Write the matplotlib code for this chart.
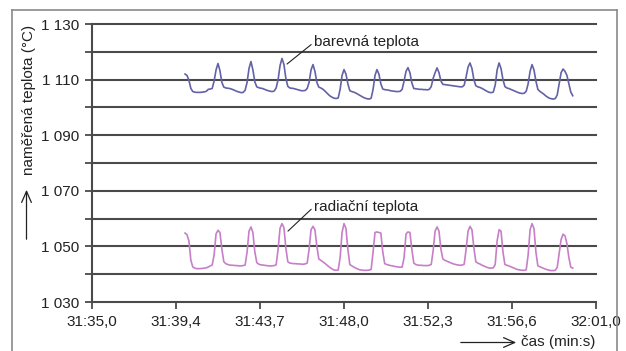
import numpy as np
import matplotlib
matplotlib.use("Agg")
import matplotlib.pyplot as plt
from matplotlib.lines import Line2D
from matplotlib.patches import FancyArrowPatch

plt.rcParams['font.family'] = ['Liberation Sans', 'DejaVu Sans']

# time axis: seconds after 31:35,0, sampled every 0.1 s from 31:39,8
t_start = 4.8
t_step = 0.1

barevna = [
    1112.0, 1111.5, 1109.8, 1106.8, 1105.7, 1105.5, 1105.4, 1105.4, 1105.4, 1105.5,
    1105.6, 1105.8, 1106.5, 1106.6, 1106.8, 1109.5, 1113.5, 1115.8, 1113.2, 1109.0,
    1107.3, 1107.0, 1106.9, 1106.8, 1106.6, 1106.3, 1106.0, 1105.7, 1105.5, 1105.3,
    1105.4, 1106.2, 1109.0, 1114.0, 1116.5, 1113.5, 1109.2, 1107.4, 1107.1, 1106.9,
    1106.8, 1106.5, 1106.2, 1106.0, 1105.8, 1105.7, 1105.9, 1107.0, 1110.0, 1115.0,
    1117.6, 1115.5, 1110.5, 1107.6, 1107.0, 1106.9, 1106.8, 1106.6, 1106.4, 1106.2,
    1106.0, 1106.0, 1106.1, 1106.8, 1109.0, 1113.5, 1115.4, 1113.0, 1109.0, 1107.3,
    1107.0, 1106.6, 1106.0, 1105.3, 1104.6, 1104.0, 1103.6, 1103.3, 1103.2, 1103.4,
    1106.5, 1111.5, 1113.6, 1112.0, 1108.5, 1106.0, 1105.7, 1105.5, 1105.2, 1104.8,
    1104.4, 1104.0, 1103.6, 1103.3, 1103.1, 1103.0, 1103.3, 1106.5, 1111.5, 1113.6,
    1112.0, 1108.5, 1106.6, 1106.4, 1106.3, 1106.2, 1106.0, 1105.9, 1105.8, 1105.7,
    1105.7, 1105.8, 1106.5, 1109.5, 1113.0, 1114.3, 1112.5, 1108.8, 1106.8, 1106.7,
    1106.6, 1106.5, 1106.5, 1106.4, 1106.4, 1106.3, 1106.5, 1107.5, 1110.5, 1112.5,
    1114.2, 1112.5, 1109.5, 1108.3, 1108.2, 1108.1, 1108.0, 1107.9, 1107.8, 1107.7,
    1107.6, 1107.5, 1107.4, 1107.4, 1108.0, 1111.0, 1114.5, 1116.0, 1114.0, 1110.0,
    1107.8, 1107.4, 1107.2, 1106.9, 1106.5, 1106.1, 1105.7, 1105.4, 1105.3, 1105.5,
    1108.0, 1113.5, 1116.0, 1114.0, 1110.0, 1107.5, 1107.0, 1106.8, 1106.5, 1106.2,
    1105.9, 1105.6, 1105.3, 1105.1, 1105.0, 1105.1, 1105.8, 1108.5, 1113.0, 1115.4,
    1113.5, 1109.5, 1106.5, 1105.8, 1105.3, 1104.8, 1104.2, 1103.7, 1103.3, 1103.1,
    1103.0, 1103.2, 1104.5, 1108.5, 1112.5, 1113.8, 1113.0, 1111.5, 1108.5, 1105.5,
    1104.2,
]

radiacni = [
    1054.8, 1054.2, 1052.0, 1045.0, 1042.6, 1042.2, 1042.0, 1042.0, 1042.0, 1042.1,
    1042.2, 1042.3, 1042.6, 1043.0, 1043.3, 1047.0, 1054.5, 1055.8, 1055.0, 1049.0,
    1044.5, 1043.8, 1043.5, 1043.3, 1043.2, 1043.2, 1043.1, 1043.1, 1043.0, 1043.0,
    1043.1, 1043.3, 1048.0, 1055.5, 1057.0, 1055.0, 1048.0, 1044.2, 1043.6, 1043.4,
    1043.3, 1043.2, 1043.1, 1043.0, 1043.0, 1043.0, 1043.1, 1043.4, 1049.0, 1056.5,
    1058.2, 1056.8, 1049.5, 1044.5, 1044.0, 1043.9, 1043.8, 1043.8, 1043.7, 1043.7,
    1043.6, 1043.6, 1043.7, 1044.0, 1049.0, 1056.0, 1057.2, 1056.0, 1050.0, 1045.5,
    1045.0, 1044.5, 1044.0, 1043.4, 1042.8, 1042.3, 1041.8, 1041.5, 1041.4, 1041.5,
    1046.0, 1055.0, 1058.2, 1056.5, 1049.0, 1043.5, 1043.0, 1042.6, 1042.2, 1041.9,
    1041.6, 1041.5, 1041.4, 1041.4, 1041.4, 1041.5, 1041.7, 1048.0, 1055.0, 1055.2,
    1055.0, 1054.8, 1048.0, 1043.8, 1043.5, 1043.3, 1043.1, 1043.0, 1042.8, 1042.7,
    1042.6, 1042.5, 1042.6, 1046.0, 1054.5, 1055.2, 1055.0, 1049.0, 1044.0, 1043.5,
    1043.3, 1043.2, 1043.2, 1043.1, 1043.1, 1043.1, 1043.2, 1043.5, 1048.5, 1055.5,
    1057.0, 1055.5, 1049.0, 1045.5, 1045.0, 1044.7, 1044.4, 1044.1, 1043.8, 1043.6,
    1043.4, 1043.3, 1043.2, 1043.3, 1043.6, 1049.0, 1055.5, 1057.2, 1056.0, 1049.5,
    1044.5, 1044.0, 1043.7, 1043.3, 1043.0, 1042.7, 1042.4, 1042.2, 1042.2, 1042.3,
    1043.5, 1052.0, 1056.0, 1055.5, 1048.0, 1043.5, 1043.2, 1043.0, 1042.7, 1042.4,
    1042.1, 1041.8, 1041.6, 1041.5, 1041.4, 1041.4, 1041.6, 1047.0, 1056.0, 1058.2,
    1056.5, 1048.0, 1043.0, 1042.7, 1042.4, 1042.1, 1041.8, 1041.6, 1041.4, 1041.3,
    1041.3, 1041.4, 1042.5, 1047.5, 1052.5, 1054.4, 1053.8, 1051.0, 1046.0, 1042.5,
    1042.2,
]

x_ticks = [0.0, 26 / 6, 2 * 26 / 6, 3 * 26 / 6, 4 * 26 / 6, 5 * 26 / 6, 26.0]
x_labels = ["31:35,0", "31:39,4", "31:43,7", "31:48,0", "31:52,3", "31:56,6", "32:01,0"]
y_label_ticks = [1030, 1050, 1070, 1090, 1110, 1130]
y_labels = ["1 030", "1 050", "1 070", "1 090", "1 110", "1 130"]
y_grid = [1040, 1050, 1060, 1070, 1080, 1090, 1100, 1110, 1120, 1130]

W, H = 626, 351
fig = plt.figure(figsize=(W / 100, H / 100), dpi=100)
fig.patch.set_facecolor("white")

# open frame around the chart (left, top, right)
frame_col = "#8a8a8a"
top = 1 - 10 / H
for xs, ys in (([12, 12], [0, top]), ([12, 617], [top, top]), ([617, 617], [0, top])):
    fig.add_artist(Line2D([xs[0] / W, xs[1] / W], ys, color=frame_col, lw=1.2,
                          transform=fig.transFigure))

ax = fig.add_axes([92 / W, 1 - 302 / H, (596 - 92) / W, (302 - 24) / H])
ax.set_xlim(0, 26)
ax.set_ylim(1030, 1130)

for yv in y_grid:
    ax.axhline(yv, color="#4a4a4a", lw=1.5, zorder=1, clip_on=False)

tb = t_start + t_step * np.arange(len(barevna))
tr = t_start + t_step * np.arange(len(radiacni))
ax.plot(tb, barevna, color="#6262a8", lw=1.2, zorder=3)
ax.plot(tr, radiacni, color="#c67fc8", lw=1.2, zorder=3)

for side in ("top", "right"):
    ax.spines[side].set_visible(False)
for side in ("left", "bottom"):
    ax.spines[side].set_color("#4a4a4a")
    ax.spines[side].set_linewidth(1.5)

ax.set_xticks(x_ticks)
ax.set_xticklabels(x_labels)
ax.set_yticks(y_label_ticks)
ax.set_yticklabels(y_labels)
ax.set_yticks([1040, 1060, 1080, 1100, 1120], minor=True)
ax.tick_params(axis="both", which="both", direction="out", length=5, width=1.3,
               color="#4a4a4a", labelsize=11, labelcolor="#222222")
ax.tick_params(axis="y", which="both", pad=4)
ax.tick_params(axis="x", pad=4)

# series labels with leader lines
ax.annotate("barevná teplota", xy=(10.06, 1115.6), xytext=(11.45, 1123.4),
            fontsize=11, color="#222222", va="center", ha="left",
            arrowprops=dict(arrowstyle="-", color="#222222", lw=0.8, shrinkA=0, shrinkB=0,
                            relpos=(0, 0.5)))
ax.annotate("radiační teplota", xy=(10.11, 1055.5), xytext=(11.45, 1064.3),
            fontsize=11, color="#222222", va="center", ha="left",
            arrowprops=dict(arrowstyle="-", color="#222222", lw=0.8, shrinkA=0, shrinkB=0,
                            relpos=(0, 0.5)))

# axis titles with arrows
fig.text(29 / W, 1 - 100 / H, "naměřená teplota (°C)", rotation=90, fontsize=11,
         color="#222222", ha="center", va="center")
fig.add_artist(FancyArrowPatch(
    (26.5 / W, 1 - 242 / H), (26.5 / W, 1 - 187 / H), transform=fig.transFigure,
    arrowstyle="->,head_length=8,head_width=3.5", color="#222222", lw=0.9,
    mutation_scale=1))
fig.text(521 / W, 1 - 342 / H, "čas (min:s)", fontsize=11, color="#222222",
         ha="left", va="center")
fig.add_artist(FancyArrowPatch(
    (458 / W, 1 - 342.5 / H), (519 / W, 1 - 342.5 / H), transform=fig.transFigure,
    arrowstyle="->,head_length=8,head_width=3.5", color="#222222", lw=0.9,
    mutation_scale=1))

fig.savefig("out.png", dpi=100)
